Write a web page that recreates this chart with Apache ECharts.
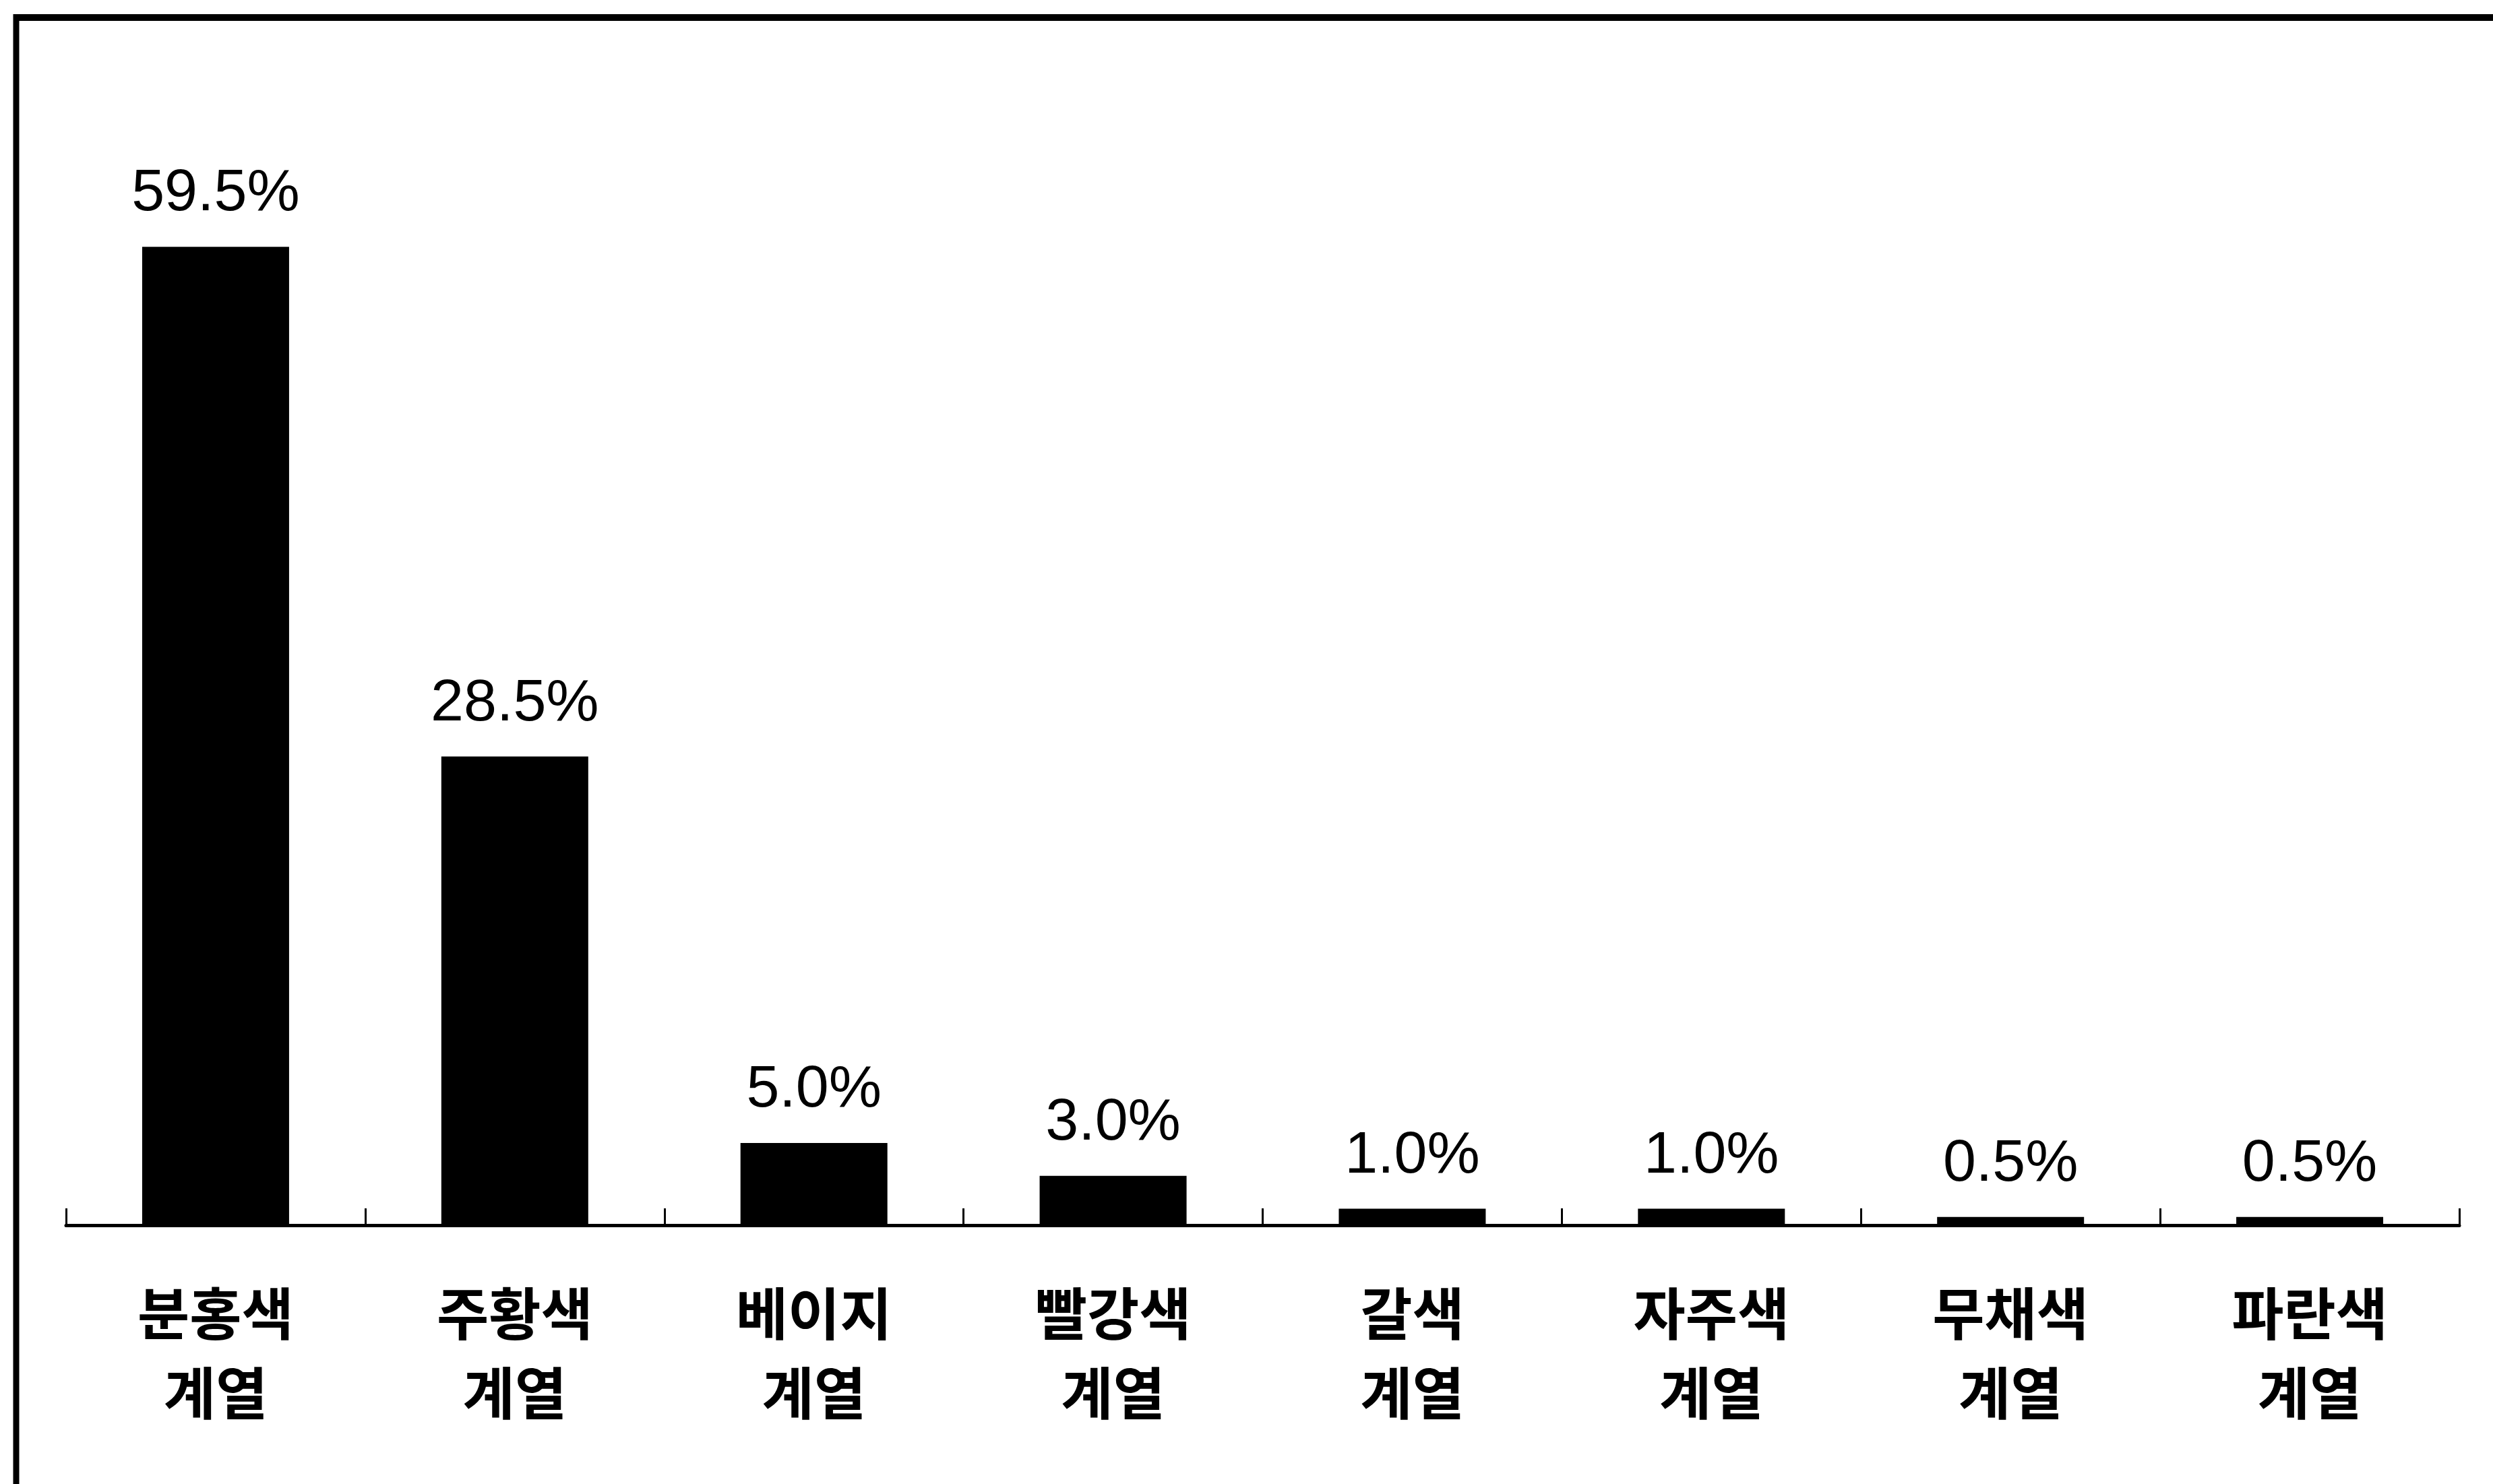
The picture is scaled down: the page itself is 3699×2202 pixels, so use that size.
<!DOCTYPE html>
<html>
<head>
<meta charset="utf-8">
<script src="https://cdn.jsdelivr.net/npm/echarts@6/dist/echarts.min.js"></script>
<style>
html,body{margin:0;padding:0;background:#fff;}
#chart{width:3699px;height:2202px;}
</style>
</head>
<body>
<div id="chart"></div>
<script>
const categories = ['분홍색\n계열', '주황색\n계열', '베이지\n계열', '빨강색\n계열', '갈색\n계열', '자주색\n계열', '무채색\n계열', '파란색\n계열'];
const values = [59.5, 28.5, 5.0, 3.0, 1.0, 1.0, 0.5, 0.5];

const chart = echarts.init(document.getElementById('chart'), null, {renderer: 'canvas'});
chart.setOption({
  backgroundColor: '#ffffff',
  animation: false,
  grid: {left: 98, right: 50, top: 110, bottom: 2202 - 1818, containLabel: false},
  xAxis: {
    type: 'category',
    data: categories,
    boundaryGap: true,
    axisLine: {show: true, lineStyle: {color: '#000', width: 5}},
    axisTick: {show: true, inside: true, length: 25, alignWithLabel: false, lineStyle: {color: '#000', width: 3}},
    axisLabel: {
      color: '#000', fontSize: 84, fontWeight: 'bold', lineHeight: 118,
      fontFamily: 'Noto Sans CJK KR', margin: 72, interval: 0
    },
    splitLine: {show: false}
  },
  yAxis: {
    type: 'value', min: 0, max: 70, interval: 10,
    show: false,
    splitLine: {show: false}
  },
  series: [{
    type: 'bar',
    data: values,
    barWidth: 218,
    itemStyle: {color: '#000'},
    label: {
      show: true, position: 'top', distance: 34,
      formatter: p => p.value.toFixed(1) + '%',
      color: '#000', fontSize: 88, fontFamily: 'Liberation Sans'
    }
  }],
  graphic: [
    {type: 'line', shape: {x1: 24, y1: 26, x2: 3699, y2: 26}, style: {stroke: '#000', lineWidth: 10}},
    {type: 'line', shape: {x1: 24, y1: 21, x2: 24, y2: 2202}, style: {stroke: '#000', lineWidth: 9}}
  ]
});
</script>
</body>
</html>
